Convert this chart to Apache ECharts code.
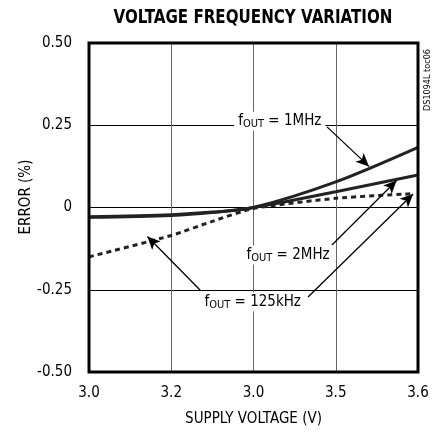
<!DOCTYPE html>
<html><head><meta charset="utf-8">
<script src="https://cdn.jsdelivr.net/npm/echarts@6/dist/echarts.min.js"></script>
<style>html,body{margin:0;padding:0;background:#fff}#c{width:440px;height:435px}</style>
</head><body><div id="c"></div>
<script>
var xTickLabels = ["3.0", "3.2", "3.0", "3.5", "3.6"];
var yTickLabels = {"-0.5": "-0.50", "-0.25": "-0.25", "0": "0", "0.25": "0.25", "0.5": "0.50"};
var x1MHz = [0, 1, 1.5, 2, 3, 4];
var y1MHz = [-0.028, -0.022, -0.014, 0, 0.078, 0.183];
var x2MHz = [0, 1, 1.5, 2, 3, 4];
var y2MHz = [-0.030, -0.024, -0.015, 0, 0.048, 0.099];
var x125k = [0, 1, 1.5, 2, 3, 3.95];
var y125k = [-0.150, -0.085, -0.042, -0.003, 0.028, 0.042];
var FONT = "'Liberation Sans Narrow','DejaVu Sans Condensed','Roboto',sans-serif";

function pairs(xs, ys) { return xs.map(function (x, i) { return [x, ys[i]]; }); }
function arrow(a, b) { return [{coord: a}, {coord: b}]; }
var mlStyle = {
  symbol: ['none', 'arrow'], symbolSize: [9, 13], silent: true,
  label: {show: false}, lineStyle: {color: '#000', width: 1.3, type: 'solid'}, animation: false
};

var chart = echarts.init(document.getElementById('c'), null, {renderer: 'canvas'});
chart.setOption({
  animation: false,
  grid: {left: 89, top: 43, width: 329, height: 329, show: true, borderColor: '#000', borderWidth: 3, z: 10},
  xAxis: {type: 'value', min: 0, max: 4, interval: 1,
    name: 'SUPPLY VOLTAGE (V)', nameLocation: 'middle', nameGap: 40,
    nameTextStyle: {fontFamily: FONT, fontSize: 15, color: '#000'},
    axisLine: {show: false}, axisTick: {show: false},
    axisLabel: {fontFamily: FONT, fontSize: 15, color: '#000', margin: 14,
      formatter: function (v) { return xTickLabels[Math.round(v)]; }},
    splitLine: {show: true, lineStyle: {color: '#666', width: 1}}},
  yAxis: {type: 'value', min: -0.5, max: 0.5, interval: 0.25,
    axisLine: {show: false}, axisTick: {show: false},
    axisLabel: {fontFamily: FONT, fontSize: 15, color: '#000', margin: 17,
      formatter: function (v) { return yTickLabels[String(v)]; }},
    splitLine: {show: true, lineStyle: {color: '#000', width: 1}}},
  series: [
    {name: '1MHz', type: 'line', data: pairs(x1MHz, y1MHz), showSymbol: false, smooth: 0.3,
      lineStyle: {color: '#222', width: 3}, z: 3,
      markLine: Object.assign({data: [arrow([2.894, 0.245], [3.404, 0.125])]}, mlStyle)},
    {name: '2MHz', type: 'line', data: pairs(x2MHz, y2MHz), showSymbol: false, smooth: 0.3,
      lineStyle: {color: '#222', width: 3}, z: 3,
      markLine: Object.assign({data: [arrow([2.954, -0.114], [3.74, 0.082])]}, mlStyle)},
    {name: '125kHz', type: 'line', data: pairs(x125k, y125k), showSymbol: false, smooth: 0.2,
      lineStyle: {color: '#222', width: 3, type: [5, 4]}, z: 3,
      markLine: Object.assign({data: [arrow([1.35, -0.251], [0.71, -0.088]), arrow([2.663, -0.272], [3.94, 0.041])]}, mlStyle)}
  ]
});

function sub(label) {
  return {
    type: 'text', z: 20,
    style: {
      rich: {f: {fontFamily: FONT, fontSize: 15, color: '#000'},
             s: {fontFamily: FONT, fontSize: 11, color: '#000', verticalAlign: 'bottom', padding: [6, 0, 0, 0]}},
      text: '{f|f}{s|OUT}{f| = ' + label + '}',
      backgroundColor: '#fff', padding: [1, 4, 1, 4], align: 'center', verticalAlign: 'middle'
    }
  };
}
var labels = [
  {t: '1MHz', at: [2.32, 0.262]},
  {t: '2MHz', at: [2.42, -0.144]},
  {t: '125kHz', at: [1.99, -0.287]}
];
var g = labels.map(function (l) {
  var p = chart.convertToPixel({gridIndex: 0}, l.at);
  var e = sub(l.t); e.x = p[0]; e.y = p[1]; return e;
});
g.push({type: 'text', x: 253, y: 18, scaleX: 0.84, z: 20,
  style: {text: 'VOLTAGE FREQUENCY VARIATION', fontFamily: FONT, fontSize: 20, fontWeight: 900, fill: '#000', align: 'center', verticalAlign: 'middle'}});
g.push({type: 'text', x: 26, y: 197, rotation: Math.PI / 2, z: 20,
  style: {text: 'ERROR (%)', fontFamily: FONT, fontSize: 15, fill: '#000', align: 'center', verticalAlign: 'middle'}});
g.push({type: 'text', x: 428, y: 80, rotation: Math.PI / 2, z: 20,
  style: {text: 'DS1094L toc06', fontFamily: FONT, fontSize: 9, fill: '#000', align: 'center', verticalAlign: 'middle'}});
chart.setOption({graphic: g});
</script></body></html>
